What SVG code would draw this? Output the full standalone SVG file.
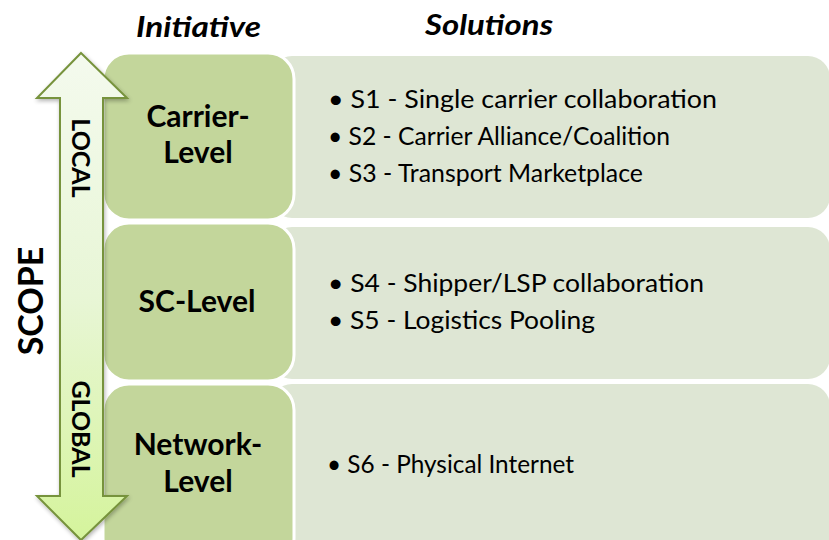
<svg xmlns="http://www.w3.org/2000/svg" width="829" height="540" viewBox="0 0 829 540">
<defs>
<linearGradient id="arrowGrad" x1="0" y1="0" x2="0" y2="1">
<stop offset="0" stop-color="#F4FAEE"/>
<stop offset="0.5" stop-color="#E8F6D6"/>
<stop offset="1" stop-color="#D5F49C"/>
</linearGradient>
<filter id="shadow" x="-20%" y="-10%" width="140%" height="120%">
<feGaussianBlur in="SourceAlpha" stdDeviation="2"/>
<feOffset dx="1" dy="2" result="b"/>
<feComponentTransfer><feFuncA type="linear" slope="0.3"/></feComponentTransfer>
<feMerge><feMergeNode/><feMergeNode in="SourceGraphic"/></feMerge>
</filter>
</defs>
<style>
.sol{fill:#DEE6D4;}
.ini{fill:#C3D69B;stroke:#FFFFFF;stroke-width:3;}
.ini-t{font-family:Lato,"Open Sans",sans-serif;font-weight:bold;font-size:30px;fill:#000;text-anchor:middle;}
.bul{font-family:Lato,"Open Sans",sans-serif;font-size:25px;fill:#000;}
.head{font-family:Lato,"Open Sans",sans-serif;font-weight:bold;font-style:italic;font-size:29px;fill:#000;}
.arr-t{font-family:Lato,"Open Sans",sans-serif;font-weight:bold;font-size:25px;fill:#000;text-anchor:middle;}
</style>
<rect width="829" height="540" fill="#FFFFFF"/>

<g id="headings">
<text class="head" x="136" y="37" textLength="125" lengthAdjust="spacingAndGlyphs">Initiative</text>
<text class="head" x="425" y="35" textLength="128" lengthAdjust="spacingAndGlyphs">Solutions</text>
</g>

<g id="solutions">
<g id="sol-carrier">
<rect class="sol" x="270" y="56" width="560" height="162" rx="22"/>
<text class="bul" x="328" y="108" textLength="389" lengthAdjust="spacingAndGlyphs">• S1 - Single carrier collaboration</text>
<text class="bul" x="328" y="145" textLength="342" lengthAdjust="spacingAndGlyphs">• S2 - Carrier Alliance/Coalition</text>
<text class="bul" x="328" y="182" textLength="315" lengthAdjust="spacingAndGlyphs">• S3 - Transport Marketplace</text>
</g>
<g id="sol-sc">
<rect class="sol" x="270" y="227" width="560" height="152" rx="22"/>
<text class="bul" x="328" y="292" textLength="376" lengthAdjust="spacingAndGlyphs">• S4 - Shipper/LSP collaboration</text>
<text class="bul" x="328" y="329" textLength="267" lengthAdjust="spacingAndGlyphs">• S5 - Logistics Pooling</text>
</g>
<g id="sol-network">
<rect class="sol" x="270" y="384" width="560" height="180" rx="22"/>
<text class="bul" x="327" y="473" textLength="247" lengthAdjust="spacingAndGlyphs">• S6 - Physical Internet</text>
</g>
</g>

<g id="init-carrier">
<rect class="ini" x="103" y="53" width="191" height="167" rx="26"/>
<text class="ini-t" x="198" y="127">Carrier-</text>
<text class="ini-t" x="198" y="163">Level</text>
</g>
<g id="init-sc">
<rect class="ini" x="103" y="223" width="191" height="158" rx="26"/>
<text class="ini-t" x="197" y="312">SC-Level</text>
</g>
<g id="init-network">
<rect class="ini" x="103" y="384" width="191" height="180" rx="26"/>
<text class="ini-t" x="198" y="455">Network-</text>
<text class="ini-t" x="198" y="492">Level</text>
</g>

<g id="scope-arrow">
<path d="M81,53 L127,98 L103,98 L103,496 L127,496 L81,540 L37,496 L60,496 L60,98 L37,98 Z" fill="url(#arrowGrad)" stroke="#77933C" stroke-width="2" stroke-linejoin="miter" filter="url(#shadow)"/>
<text class="arr-t" transform="translate(72,158) rotate(90)">LOCAL</text>
<text class="arr-t" transform="translate(72,429) rotate(90)">GLOBAL</text>
</g>

<g id="scope-label">
<text font-family="Lato,'Open Sans',sans-serif" font-weight="bold" font-size="34" text-anchor="middle" transform="translate(43,301) rotate(-90)">SCOPE</text>
</g>
</svg>
